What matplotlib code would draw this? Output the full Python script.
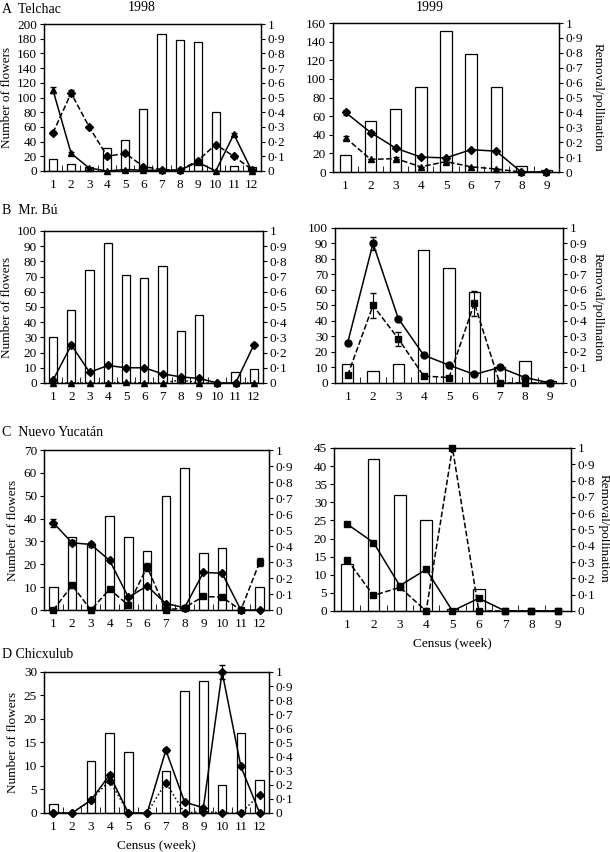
import numpy as np
import matplotlib
matplotlib.use('Agg')
import matplotlib.pyplot as plt
from matplotlib.ticker import FixedLocator, FuncFormatter

plt.rcParams['font.family'] = ['Liberation Serif', 'DejaVu Serif']
plt.rcParams['font.size'] = 9.5

# Census weeks
weeks_98 = list(range(1, 13))
weeks_99 = list(range(1, 10))

# A Telchac
telchac_98_flowers = [16, 9, 6, 31, 42, 85, 186, 178, 176, 80, 7, 5]
telchac_98_tri = [0.55, 0.12, 0.02, 0.0, 0.01, 0.005, 0.005, 0.005, 0.06, 0.0, 0.25, 0.0]
telchac_98_tri_err = [0.02, 0.01, 0, 0, 0, 0, 0, 0, 0, 0, 0.01, 0]
telchac_98_dia = [0.26, 0.53, 0.30, 0.10, 0.12, 0.03, 0.01, 0.005, 0.07, 0.18, 0.10, 0.01]
telchac_98_dia_err = [0.01, 0.02, 0, 0.01, 0.01, 0, 0, 0, 0.01, 0, 0, 0]
telchac_99_flowers = [18, 55, 68, 91, 151, 127, 91, 6, 2]
telchac_99_dia = [0.40, 0.265, 0.16, 0.10, 0.095, 0.15, 0.14, 0.0, 0.0]
telchac_99_dia_err = [0.015, 0.01, 0, 0, 0, 0, 0, 0, 0]
telchac_99_tri = [0.23, 0.085, 0.09, 0.035, 0.07, 0.035, 0.02, 0.0, 0.0]
telchac_99_tri_err = [0.01, 0, 0.01, 0, 0.01, 0, 0, 0, 0]

# B Mr. Bu
mrbu_98_flowers = [30, 48, 74, 92, 71, 69, 77, 34, 45, 0, 7, 9]
mrbu_98_dia = [0.02, 0.25, 0.07, 0.115, 0.10, 0.10, 0.06, 0.04, 0.03, 0.0, 0.0, 0.25]
mrbu_98_dia_err = [0, 0.01, 0, 0, 0, 0, 0, 0, 0, 0, 0, 0.01]
mrbu_98_tri = [0.0, 0.0, 0.0, 0.0, 0.005, 0.0, 0.0, 0.02, 0.0, 0.0, 0.0, 0.0]
mrbu_99_flowers = [12, 8, 12, 86, 74, 59, 10, 14, 1]
mrbu_99_circ = [0.26, 0.90, 0.415, 0.18, 0.115, 0.055, 0.10, 0.035, 0.0]
mrbu_99_circ_err = [0, 0.045, 0, 0, 0, 0, 0, 0, 0]
mrbu_99_sq = [0.05, 0.50, 0.285, 0.045, 0.035, 0.515, 0.0, 0.0, 0.0]
mrbu_99_sq_err = [0, 0.08, 0.045, 0, 0, 0.08, 0, 0, 0]

# C Nuevo Yucatan
nuevo_98_flowers = [10, 32, 29, 41, 32, 26, 50, 62, 25, 27, 0, 10]
nuevo_98_dia = [0.545, 0.42, 0.41, 0.31, 0.08, 0.15, 0.04, 0.015, 0.235, 0.23, 0.0, 0.0]
nuevo_98_dia_err = [0.025, 0.015, 0.015, 0.01, 0, 0, 0, 0, 0, 0, 0, 0]
nuevo_98_sq = [0.0, 0.155, 0.0, 0.13, 0.03, 0.27, 0.0, 0.015, 0.085, 0.08, 0.0, 0.30]
nuevo_98_sq_err = [0, 0, 0, 0, 0, 0.025, 0, 0, 0, 0, 0, 0.025]
nuevo_99_flowers = [13, 42, 32, 25, 0.5, 6, 0, 0, 0]
nuevo_99_sq_a = [0.533, 0.42, 0.155, 0.255, 0.0, 0.078, 0.0, 0.0, 0.0]
nuevo_99_sq_b = [0.315, 0.095, 0.145, 0.0, 1.0, 0.0, 0.0, 0.0, 0.0]

# D Chicxulub
chic_98_flowers = [2, 0, 11, 17, 13, 0, 9, 26, 28, 6, 17, 7]
chic_98_a = [0.0, 0.0, 0.09, 0.27, 0.0, 0.0, 0.445, 0.077, 0.037, 1.0, 0.33, 0.0]
chic_98_a_err = [0, 0, 0, 0.015, 0, 0, 0.015, 0, 0, 0.05, 0, 0]
chic_98_b = [0.0, 0.0, 0.09, 0.23, 0.0, 0.0, 0.215, 0.0, 0.01, 0.0, 0.0, 0.13]


def fmt_dot(v, pos):
    if abs(v) < 1e-9:
        return '0'
    if abs(v - 1) < 1e-9:
        return '1'
    return ('%.1f' % v).replace('.', '\u00b7')


def panel(rect, weeks, flowers, ymax, ystep, series, xlabel=False, left_label=False):
    ax = fig.add_axes(rect)
    ax.bar(weeks, flowers, width=0.45, color='white', edgecolor='black', linewidth=0.9)
    ax.set_xlim(0.5, len(weeks) + 0.5)
    ax.set_ylim(0, ymax)
    ax.set_yticks(np.arange(0, ymax + 0.1, ystep))
    ax.set_xticks(weeks)
    ax.xaxis.set_minor_locator(FixedLocator(np.arange(1.5, len(weeks), 1.0)))
    ax.tick_params(axis='x', which='major', length=0, pad=6)
    ax.tick_params(axis='x', which='minor', direction='in', length=4)
    ax.tick_params(axis='y', direction='out', length=3, pad=2)
    ax2 = ax.twinx()
    ax2.set_ylim(0, 1)
    ax2.set_yticks(np.arange(0, 1.01, 0.1))
    ax2.yaxis.set_major_formatter(FuncFormatter(fmt_dot))
    ax2.tick_params(axis='y', direction='out', length=3, pad=2)
    for vals, err, marker, ls in series:
        ms = 4.2 if marker == 'D' else 5
        ax2.errorbar(weeks, vals, yerr=err, color='black', marker=marker, ms=ms,
                     ls=ls, lw=1.1, capsize=2.5, elinewidth=0.8, clip_on=False)
    for a in (ax, ax2):
        for s in a.spines.values():
            s.set_linewidth(0.9)
    if xlabel:
        ax.set_xlabel('Census (week)', labelpad=4)
    if left_label:
        ax.set_ylabel('Number of flowers', labelpad=3)
    return ax


fig = plt.figure(figsize=(6.1, 8.52), dpi=100)

zero98 = [0] * 12
zero99 = [0] * 9

panel([0.0721, 0.7993, 0.3557, 0.1725], weeks_98, telchac_98_flowers, 200, 20,
      [(telchac_98_tri, telchac_98_tri_err, '^', '-'),
       (telchac_98_dia, telchac_98_dia_err, 'D', '--')], left_label=True)
panel([0.5459, 0.7981, 0.3705, 0.1749], weeks_99, telchac_99_flowers, 160, 20,
      [(telchac_99_dia, telchac_99_dia_err, 'D', '-'),
       (telchac_99_tri, telchac_99_tri_err, '^', '--')])

panel([0.0721, 0.5505, 0.359, 0.1784], weeks_98, mrbu_98_flowers, 100, 10,
      [(mrbu_98_dia, mrbu_98_dia_err, 'D', '-'),
       (mrbu_98_tri, zero98, '^', ':')], left_label=True)
panel([0.5492, 0.5505, 0.3738, 0.1819], weeks_99, mrbu_99_flowers, 100, 10,
      [(mrbu_99_circ, mrbu_99_circ_err, 'o', '-'),
       (mrbu_99_sq, mrbu_99_sq_err, 's', '--')])

panel([0.0721, 0.284, 0.3689, 0.1878], weeks_98, nuevo_98_flowers, 70, 10,
      [(nuevo_98_dia, nuevo_98_dia_err, 'D', '-'),
       (nuevo_98_sq, nuevo_98_sq_err, 's', '--')], left_label=True)
panel([0.5475, 0.2829, 0.3885, 0.1913], weeks_99, nuevo_99_flowers, 45, 5,
      [(nuevo_99_sq_a, zero99, 's', '-'),
       (nuevo_99_sq_b, zero99, 's', '--')], xlabel=True)

panel([0.0721, 0.0458, 0.3689, 0.1655], weeks_98, chic_98_flowers, 30, 5,
      [(chic_98_a, chic_98_a_err, 'D', '-'),
       (chic_98_b, zero98, 'D', ':')], left_label=True, xlabel=True)

# right-hand axis labels
for xc, yc in ((598, 97), (598, 307), (604, 528)):
    fig.text(xc / 610, 1 - yc / 852, 'Removal/pollination', rotation=270,
             ha='center', va='center')

fig.text(0.003, 1 - 3 / 852, 'A  Telchac', fontsize=10, va='top')
fig.text(0.232, 1 - 1 / 852, '1998', fontsize=10, ha='center', va='top')
fig.text(0.705, 1 - 1 / 852, '1999', fontsize=10, ha='center', va='top')
fig.text(0.003, 1 - 211 / 852, 'B  Mr. Bú', fontsize=10, va='center')
fig.text(0.003, 1 - 433 / 852, 'C  Nuevo Yucatán', fontsize=10, va='center')
fig.text(0.003, 1 - 654 / 852, 'D Chicxulub', fontsize=10, va='center')

fig.savefig('out.png', dpi=100)
